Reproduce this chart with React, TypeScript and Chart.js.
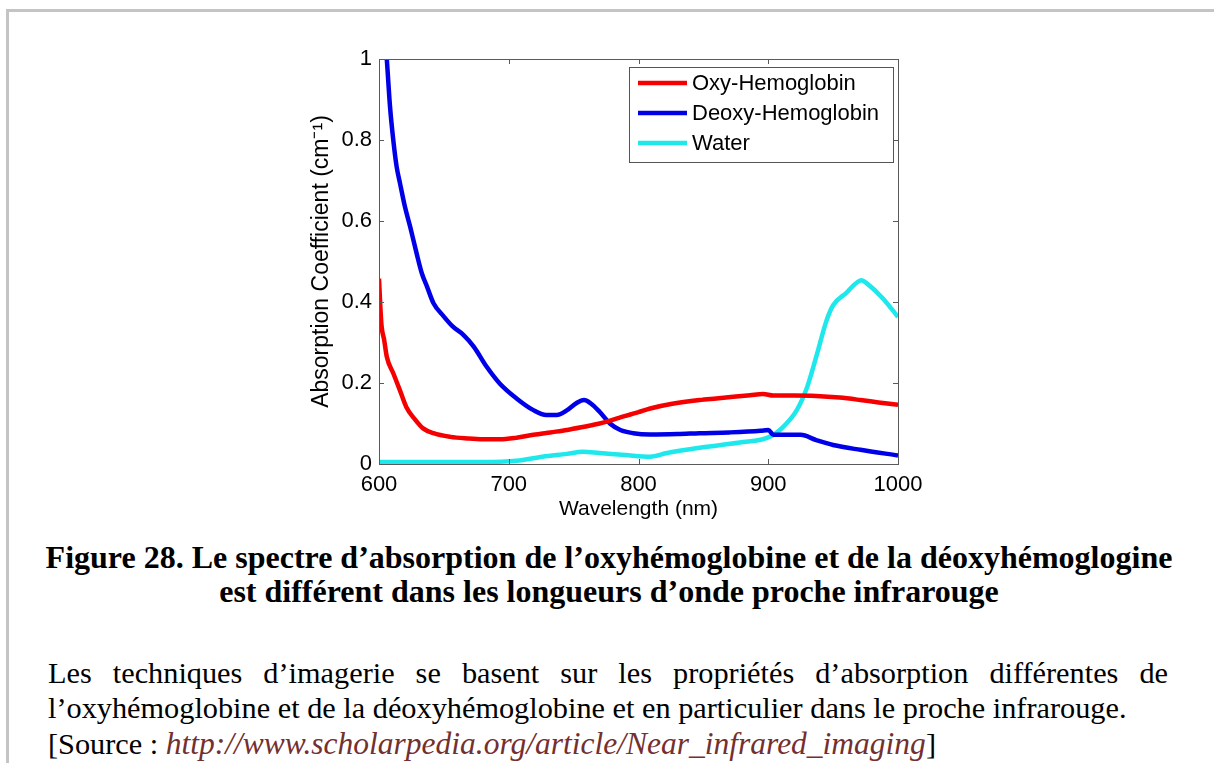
import React, { useEffect, useRef } from 'react';
import { Chart, registerables } from 'chart.js';

Chart.register(...registerables);

// ---- data ----
const seriesLabels = ['Oxy-Hemoglobin', 'Deoxy-Hemoglobin', 'Water'];
const seriesColors = ['#f50000', '#0000e8', '#1ee8ec'];

const oxyNm = [600, 601, 602, 604, 606, 611, 616, 621, 628, 634, 642, 655, 668, 680, 693, 706, 719, 732, 745, 758, 770, 785, 800, 809, 825, 847, 860, 873, 886, 896, 904, 920, 937, 955, 971, 985, 1000];
const oxyAbs = [0.458, 0.39, 0.34, 0.306, 0.265, 0.224, 0.183, 0.141, 0.109, 0.088, 0.076, 0.067, 0.063, 0.061, 0.061, 0.065, 0.072, 0.078, 0.084, 0.092, 0.1, 0.114, 0.128, 0.137, 0.148, 0.158, 0.162, 0.166, 0.17, 0.173, 0.169, 0.169, 0.168, 0.164, 0.158, 0.152, 0.146];

const deoxyNm = [600, 603, 606, 608.5, 611, 613.6, 616.2, 620, 624, 629, 633, 637, 642, 650, 657, 665, 673, 683, 693, 706, 719, 729, 737, 745, 752, 758, 763, 770, 778, 786, 796, 809, 830, 847, 870, 894, 900, 904, 925, 937, 950, 971, 1000];
const deoxyAbs = [1.25, 1.12, 1.0, 0.882, 0.8, 0.734, 0.693, 0.635, 0.586, 0.52, 0.471, 0.438, 0.397, 0.364, 0.339, 0.319, 0.29, 0.24, 0.199, 0.162, 0.133, 0.121, 0.121, 0.133, 0.15, 0.158, 0.15, 0.129, 0.1, 0.084, 0.076, 0.073, 0.074, 0.076, 0.078, 0.082, 0.084, 0.072, 0.072, 0.059, 0.047, 0.035, 0.021];

const waterNm = [600, 650, 680, 706, 726, 745, 757, 770, 790, 809, 822, 847, 878, 901, 911, 922, 930, 937, 945, 950, 960, 972, 976, 988, 1000];
const waterAbs = [0.005, 0.005, 0.005, 0.008, 0.018, 0.025, 0.03, 0.027, 0.022, 0.018, 0.027, 0.04, 0.053, 0.067, 0.09, 0.133, 0.19, 0.265, 0.355, 0.392, 0.422, 0.454, 0.446, 0.41, 0.363];

const xTickValues = [600, 700, 800, 900, 1000];
const yTickValues = [0, 0.2, 0.4, 0.6, 0.8, 1];
const xAxisTitle = 'Wavelength (nm)';
const yAxisTitle = 'Absorption Coefficient (cm\u207B\u00B9)';

const AXIS_FONT = '"Liberation Sans", Arial, Helvetica, sans-serif';

function toPoints(xs: number[], ys: number[]) {
  return xs.map((x, i) => ({ x, y: ys[i] }));
}

const boxPlugin = {
  id: 'matlabBox',
  afterDatasetsDraw(chart: any) {
    const { ctx, chartArea, scales } = chart;
    const { left, right, top, bottom } = chartArea;
    const tl = 5;
    ctx.save();
    ctx.strokeStyle = '#5a5a5a';
    ctx.lineWidth = 1;
    ctx.strokeRect(Math.round(left) + 0.5, Math.round(top) + 0.5, Math.round(right - left), Math.round(bottom - top));
    ctx.beginPath();
    scales.x.ticks.forEach((t: any) => {
      const px = Math.round(scales.x.getPixelForValue(t.value)) + 0.5;
      ctx.moveTo(px, bottom);
      ctx.lineTo(px, bottom - tl);
      ctx.moveTo(px, top);
      ctx.lineTo(px, top + tl);
    });
    scales.y.ticks.forEach((t: any) => {
      const py = Math.round(scales.y.getPixelForValue(t.value)) + 0.5;
      ctx.moveTo(left, py);
      ctx.lineTo(left + tl, py);
      ctx.moveTo(right, py);
      ctx.lineTo(right - tl, py);
    });
    ctx.stroke();
    ctx.restore();
  },
};

const legendPlugin = {
  id: 'insideLegend',
  afterDraw(chart: any) {
    const { ctx, chartArea } = chart;
    const w = 264;
    const h = 95;
    const bx = Math.round(chartArea.right - 5 - w);
    const by = Math.round(chartArea.top + 8);
    ctx.save();
    ctx.fillStyle = '#ffffff';
    ctx.fillRect(bx, by, w, h);
    ctx.strokeStyle = '#555555';
    ctx.lineWidth = 1;
    ctx.strokeRect(bx + 0.5, by + 0.5, w, h);
    ctx.font = '22px ' + AXIS_FONT;
    ctx.textBaseline = 'middle';
    ctx.textAlign = 'left';
    chart.data.datasets.forEach((ds: any, i: number) => {
      const cy = by + 16 + i * 30;
      ctx.strokeStyle = ds.borderColor;
      ctx.lineWidth = 4.5;
      ctx.beginPath();
      ctx.moveTo(bx + 9, cy);
      ctx.lineTo(bx + 58, cy);
      ctx.stroke();
      ctx.fillStyle = '#000';
      ctx.fillText(ds.label, bx + 63, cy + 1);
    });
    ctx.restore();
  },
};

function AbsorptionChart() {
  const ref = useRef<HTMLCanvasElement | null>(null);
  useEffect(() => {
    if (!ref.current) return;
    const series = [toPoints(oxyNm, oxyAbs), toPoints(deoxyNm, deoxyAbs), toPoints(waterNm, waterAbs)];
    const chart = new Chart(ref.current, {
      type: 'line',
      data: {
        datasets: series.map((pts, i) => ({
          label: seriesLabels[i],
          data: pts,
          borderColor: seriesColors[i],
          backgroundColor: seriesColors[i],
          borderWidth: 4.5,
          pointRadius: 0,
          tension: 0.3,
          cubicInterpolationMode: 'monotone',
          fill: false,
        })),
      },
      options: {
        animation: false,
        responsive: true,
        maintainAspectRatio: false,
        layout: { padding: { left: 300, right: 316, top: 59, bottom: 8 } },
        plugins: {
          legend: { display: false },
          tooltip: { enabled: false },
        },
        scales: {
          x: {
            type: 'linear',
            min: 600,
            max: 1000,
            afterBuildTicks: (s: any) => {
              s.ticks = xTickValues.map((v) => ({ value: v }));
            },
            afterFit: (s: any) => {
              s.height = 58;
            },
            ticks: {
              color: '#000',
              font: { family: AXIS_FONT, size: 22 },
              padding: 8,
              maxRotation: 0,
              autoSkip: false,
              callback: (v: any) => String(v),
            },
            grid: { display: false, drawTicks: false },
            border: { display: false },
            title: {
              display: true,
              text: xAxisTitle,
              color: '#000',
              font: { family: AXIS_FONT, size: 21 },
              padding: { top: 0, bottom: 0 },
            },
          },
          y: {
            type: 'linear',
            min: 0,
            max: 1,
            afterBuildTicks: (s: any) => {
              s.ticks = yTickValues.map((v) => ({ value: v }));
            },
            afterFit: (s: any) => {
              s.width = 79;
            },
            ticks: {
              color: '#000',
              font: { family: AXIS_FONT, size: 22 },
              padding: 7,
              callback: (v: any) => String(+Number(v).toFixed(1)),
            },
            grid: { display: false, drawTicks: false },
            border: { display: false },
            title: {
              display: true,
              text: yAxisTitle,
              color: '#000',
              font: { family: AXIS_FONT, size: 23 },
              padding: { top: 8, bottom: 0 },
            },
          },
        },
      } as any,
      plugins: [boxPlugin, legendPlugin],
    });
    return () => chart.destroy();
  }, []);
  return (
    <div style={{ position: 'absolute', left: 0, top: 0, width: 1214, height: 530 }}>
      <canvas ref={ref} />
    </div>
  );
}

export default function App() {
  return (
    <div style={{ position: 'absolute', left: 0, top: 0, width: 1214, height: 763, overflow: 'hidden', background: '#fff' }}>
      <div
        style={{
          position: 'absolute',
          left: 6,
          top: 9,
          width: 1230,
          height: 800,
          borderTop: '3px solid #c4c4c4',
          borderLeft: '3px solid #c4c4c4',
        }}
      />
      <AbsorptionChart />
      <div
        style={{
          position: 'absolute',
          left: 0,
          top: 540,
          width: 1218,
          textAlign: 'center',
          fontFamily: '"Liberation Serif", "Times New Roman", serif',
          fontWeight: 'bold',
          fontSize: 32,
          lineHeight: '34px',
          color: '#000',
          whiteSpace: 'nowrap',
        }}
      >
        Figure 28. Le spectre d’absorption de l’oxyhémoglobine et de la déoxyhémoglogine
        <br />
        est différent dans les longueurs d’onde proche infrarouge
      </div>
      <div
        style={{
          position: 'absolute',
          left: 48,
          top: 656,
          width: 1120,
          fontFamily: '"Liberation Serif", "Times New Roman", serif',
          fontSize: 30.3,
          lineHeight: '35px',
          color: '#000',
        }}
      >
        <div style={{ textAlign: 'justify', textAlignLast: 'justify' as any }}>
          Les techniques d’imagerie se basent sur les propriétés d’absorption différentes de
        </div>
        <div style={{ whiteSpace: 'nowrap' }}>l’oxyhémoglobine et de la déoxyhémoglobine et en particulier dans le proche infrarouge.</div>
        <div style={{ whiteSpace: 'nowrap' }}>
          [Source : <i style={{ color: '#74302f', fontSize: 31.5 }}>http://www.scholarpedia.org/article/Near_infrared_imaging</i>]
        </div>
      </div>
    </div>
  );
}
